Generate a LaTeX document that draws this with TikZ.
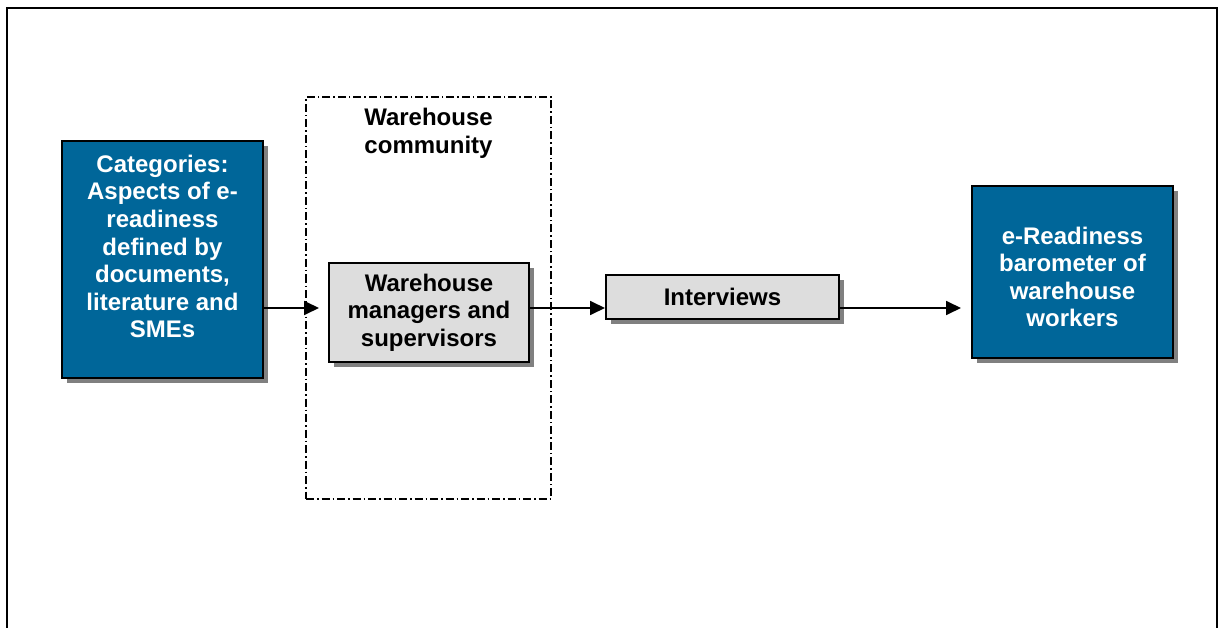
\documentclass[tikz,border=0pt]{standalone}
\usepackage{fontspec}
\setmainfont{Liberation Sans}
\usetikzlibrary{arrows.meta,shadows}
\definecolor{boxblue}{RGB}{0,102,153}
\definecolor{boxgrey}{RGB}{221,221,221}
\definecolor{shadowgrey}{RGB}{128,128,128}
\newcommand{\boxfont}{\bfseries\fontsize{24}{27.6}\selectfont}
\begin{document}
\begin{tikzpicture}[x=1pt,y=-1pt,
  shadowed/.style={drop shadow={shadow xshift=5pt,shadow yshift=-5pt,fill=shadowgrey,opacity=1}},
  bluebox/.style={draw=black,line width=2pt,fill=boxblue,shadowed,inner sep=0pt},
  greybox/.style={draw=black,line width=2pt,fill=boxgrey,shadowed,inner sep=0pt,align=center,font=\boxfont,text=black},
  whitetext/.style={align=center,font=\boxfont,text=white,inner sep=0pt},
  blacktext/.style={align=center,font=\boxfont,text=black,inner sep=0pt},
  group/.style={draw=black,line width=1.5pt,dash pattern=on 8pt off 3pt on 1.5pt off 3pt,inner sep=0pt},
  flow/.style={line width=1.8pt,-{Triangle[length=15pt,width=14pt]}}
]
\useasboundingbox (0,0) rectangle (1220,628);

% outer frame, open at the bottom
\draw[line width=2.5pt] (7,640) -- (7,8) -- (1217,8) -- (1217,640);

% warehouse community group
\node[group,minimum width=245,minimum height=402] (community) at (428.5,298) {};
\node[blacktext] (communitytitle) at (428.5,133.5) {Warehouse\\community};

% source box
\node[bluebox,minimum width=201,minimum height=237] (cat) at (162.5,259.5) {};
\node[whitetext] (cattext) at (162.5,246.5) {Categories:\\Aspects of e-\\readiness\\defined by\\documents,\\literature and\\SMEs};

% managers and supervisors
\node[greybox,minimum width=200,minimum height=99] (mgr) at (429,312.5) {Warehouse\\managers and\\supervisors};

% interviews
\node[greybox,minimum width=233,minimum height=44] (intv) at (722.5,297) {Interviews};

% result box
\node[bluebox,minimum width=201,minimum height=172] (baro) at (1072.5,272) {};
\node[whitetext] (barotext) at (1072.5,277) {e-Readiness\\barometer of\\warehouse\\workers};

% flow line
\coordinate (flowline) at (0,308);
\draw[flow,shorten >=9pt] (cat.east |- flowline) -- (mgr.west |- flowline);
\draw[flow] (mgr.east |- flowline) -- (intv.west |- flowline);
\draw[flow,shorten >=10pt] (intv.east |- flowline) -- (baro.west |- flowline);
\end{tikzpicture}
\end{document}
